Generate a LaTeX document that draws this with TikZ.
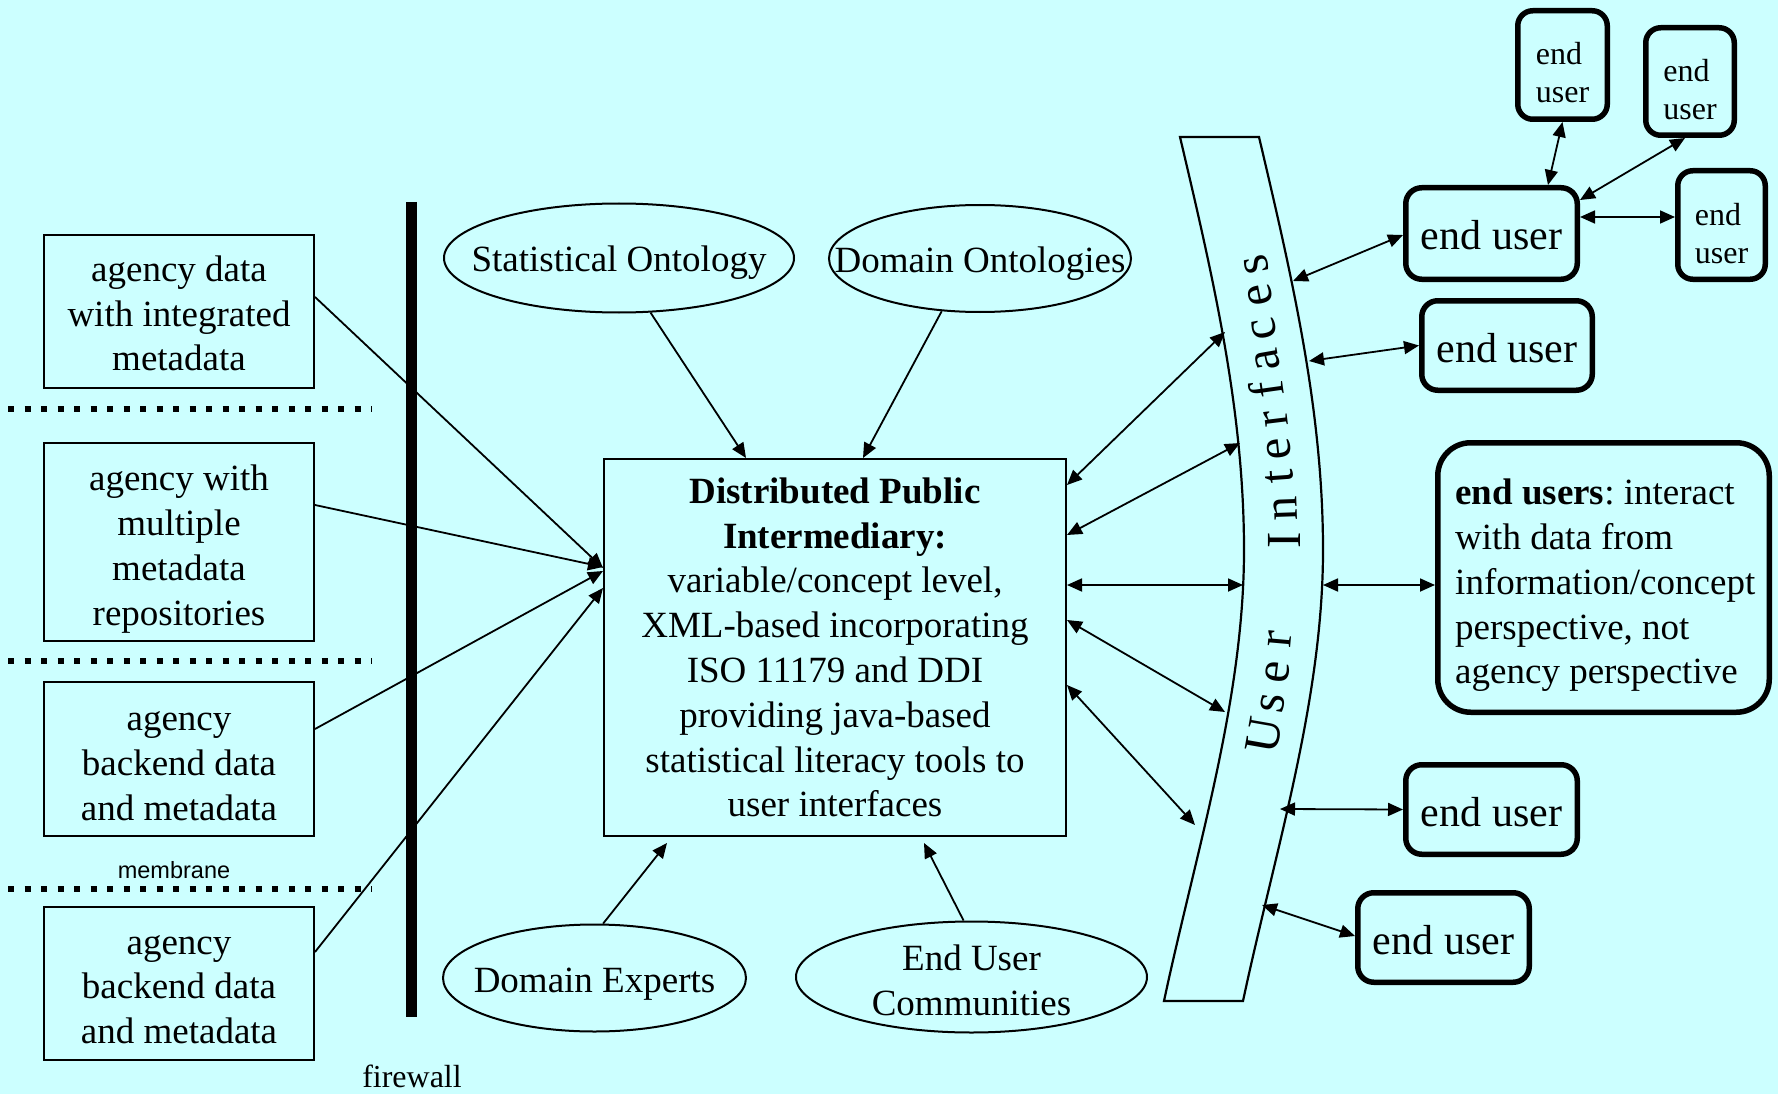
\documentclass[tikz,border=0pt]{standalone}
\usepackage{fontspec}
\setmainfont{Liberation Serif}
\setsansfont{Liberation Sans}
\usetikzlibrary{arrows.meta,shapes.geometric,calc}
\newcommand{\myfs}[2]{\fontsize{#1}{#2}\selectfont}
\definecolor{bgcyan}{RGB}{204,255,255}
\frenchspacing
\begin{document}
\begin{tikzpicture}[x=1pt,y=-1pt,
  >={Triangle[length=15pt,width=13pt]},
  conn/.style={line width=1.8pt,->},
  biconn/.style={line width=1.8pt,<->},
  agbox/.style={draw,line width=2pt,minimum width=270pt,inner sep=0pt},
  btext/.style={align=center,inner sep=0pt,font=\myfs{37}{44.8}},
  midbox/.style={draw,line width=2pt,minimum width=462pt,minimum height=377pt,align=center,inner sep=3pt,font=\myfs{37}{44.8}},
  ell/.style={draw,ellipse,line width=2pt,inner sep=0pt},
  eubig/.style={draw,line width=5.5pt,rounded corners=16pt,inner sep=0pt},
  eubigtext/.style={inner sep=0pt,font=\myfs{42}{48}},
  eusmall/.style={draw,line width=5.5pt,rounded corners=15pt,inner sep=0pt},
  eusmalltext/.style={inner sep=0pt,align=left,font=\myfs{32}{38}},
  membr/.style={line width=6.5pt,dash pattern=on 6pt off 10.5pt},
  uil/.style={inner sep=0pt,anchor=base,font=\myfs{49}{55}}]

\fill[bgcyan] (0,0) rectangle (1778,1094);
\useasboundingbox (0,0) rectangle (1778,1094);

% left agency boxes
\node[agbox,minimum height=153pt] (L1) at (179,311.5) {};
\node[btext] (L1t) at (179,313.5) {agency data\\with integrated\\metadata};
\node[agbox,minimum height=198pt] (L2) at (179,542) {};
\node[btext] (L2t) at (179,549) {agency with\\multiple\\metadata\\repositories};
\node[agbox,minimum height=154pt] (L3) at (179,759) {};
\node[btext] (L3t) at (179,766) {agency\\backend data\\and metadata};
\node[agbox,minimum height=153pt] (L4) at (179,983.5) {};
\node[btext] (L4t) at (179,989.5) {agency\\backend data\\and metadata};

% membranes
\draw[membr] (8,409) -- (372,409);
\draw[membr] (8,661) -- (372,661);
\draw[membr] (8,889) -- (372,889);
\node[font=\sffamily\myfs{23.5}{28},anchor=base,inner sep=0pt] (memb) at (174,878) {membrane};

% firewall
\draw[line width=11.5pt] (411.5,202) -- (411.5,1017);
\node[font=\myfs{32}{38},anchor=base,inner sep=0pt] (fw) at (412,1087) {firewall};

% ellipses
\node[ell,minimum width=350pt,minimum height=109pt] (so) at (619,258) {};
\node[btext] (sot) at (619,263) {Statistical Ontology};
\node[ell,minimum width=302pt,minimum height=107pt] (do) at (980,258.5) {};
\node[btext] (dot) at (980,263.5) {Domain Ontologies};
\node[ell,minimum width=303pt,minimum height=107pt] (de) at (594.5,978) {};
\node[btext] (det) at (594.5,984) {Domain Experts};
\node[ell,minimum width=351pt,minimum height=111pt] (euc) at (971.5,977) {};
\node[btext] (euct) at (971.5,980) {End User\\Communities};

% central box
\node[midbox] (mid) at (835,647.5) {\textbf{Distributed Public}\\\textbf{Intermediary:}\\variable/concept level,\\XML-based incorporating\\ISO 11179 and DDI\\providing java-based\\statistical literacy tools to\\user interfaces};

% user interfaces band
\draw[line width=2.2pt,fill=bgcyan] (1180,137) -- (1259,137)
  .. controls (1292,277) and (1323,410) .. (1323,550)
  .. controls (1323,700) and (1275,851) .. (1243,1001)
  -- (1164,1001)
  .. controls (1196,851) and (1244,700) .. (1244,550)
  .. controls (1244,410) and (1213,277) .. (1180,137) -- cycle;
\foreach \l/\x/\y/\a [count=\i] in {U/1280/738/80, s/1284/705/81, e/1289/674/83, r/1291/640/85,
  I/1300/540/90, n/1297/508/92, t/1293/476/94, e/1290/448/96, r/1287/417/97,
  f/1283/387/98, a/1279/358/100, c/1275/327/101, e/1271/293/101, s/1268/262/102}
  \node[uil,rotate=\a] (ui\i) at (\x,\y) {\l};

% end user boxes
\node[eubig,minimum width=171.5pt,minimum height=91.5pt] (eu1) at (1491.5,233.5) {};
\node[eubigtext] (eu1t) at (1491.5,235) {end user};
\node[eubig,minimum width=170.5pt,minimum height=89.5pt] (eu2) at (1507,345.5) {};
\node[eubigtext] (eu2t) at (1507,348.5) {end user};
\node[eubig,minimum width=171.5pt,minimum height=89.5pt] (eu3) at (1491.5,809.5) {};
\node[eubigtext] (eu3t) at (1491.5,812.5) {end user};
\node[eubig,minimum width=171.5pt,minimum height=89.5pt] (eu4) at (1443.5,937.5) {};
\node[eubigtext] (eu4t) at (1443.5,940.5) {end user};
\node[eusmall,minimum width=89.5pt,minimum height=108.5pt] (eua) at (1562.5,65) {};
\node[eusmalltext] (euat) at (1562.5,73) {end\\user};
\node[eusmall,minimum width=88.5pt,minimum height=107.5pt] (eub) at (1690,81.5) {};
\node[eusmalltext] (eubt) at (1690,89.5) {end\\user};
\node[eusmall,minimum width=87.5pt,minimum height=108.5pt] (euc2) at (1721.5,225) {};
\node[eusmalltext] (euc2t) at (1721.5,234) {end\\user};
\node[draw,line width=5.5pt,rounded corners=33pt,minimum width=331.5pt,minimum height=269.5pt,inner sep=0pt] (info) at (1603.5,577.5) {};
\node[align=left,anchor=west,inner sep=0pt,font=\myfs{37}{44.8}] (infot) at (1455,585.5)
  {\textbf{end users}: interact\\with data from\\information/concept\\perspective, not\\agency perspective};

% band anchor points
\coordinate (b1) at (1225,332);
\coordinate (b2) at (1240,443);
\coordinate (b3) at (1243,585);
\coordinate (b4) at (1225,712);
\coordinate (b5) at (1195,825);
\coordinate (r1) at (1293,281);
\coordinate (r2) at (1309,361);
\coordinate (r3) at (1323,585);
\coordinate (r4) at (1280,809);
\coordinate (r5) at (1262,905);

% connectors: left boxes -> intermediary
\draw[conn] ([yshift=14.5pt]L1.east) -- ([yshift=79.5pt]mid.west);
\draw[conn] ([yshift=37pt]L2.east) -- ([yshift=80.5pt]mid.west);
\draw[conn] ([yshift=30pt]L3.east) -- ([yshift=76.5pt]mid.west);
\draw[conn] ([yshift=31.5pt]L4.east) -- ([yshift=59.5pt]mid.west);

% ellipses -> intermediary
\draw[conn] (so.-60) -- ([xshift=-89pt]mid.north);
\draw[conn] (do.-126) -- ([xshift=28pt]mid.north);
\draw[conn] (de.81) -- ([xshift=-168pt,yshift=-6pt]mid.south);
\draw[conn] (euc.98) -- ([xshift=89pt,yshift=-6pt]mid.south);

% intermediary <-> band
\draw[biconn] ([yshift=162.5pt]mid.east) -- (b1);
\draw[biconn] ([yshift=112.5pt]mid.east) -- (b2);
\draw[biconn] ([yshift=62.5pt]mid.east) -- (b3);
\draw[biconn] ([yshift=27.5pt]mid.east) -- (b4);
\draw[biconn] ([yshift=-37.5pt]mid.east) -- (b5);

% band <-> end users
\draw[biconn] (r1) -- ([yshift=-1.5pt]eu1.west);
\draw[biconn] (r2) -- (eu2.west);
\draw[biconn] (r3) -- ([yshift=-7.5pt]info.west);
\draw[biconn] (r4) -- (eu3.west);
\draw[biconn] (r5) -- ([yshift=1.5pt]eu4.west);

% end user <-> end users
\draw[biconn] ([xshift=56.5pt]eu1.north) -- (eua.south);
\draw[biconn] ([yshift=33.5pt]eu1.east) -- ([xshift=-5pt]eub.south);
\draw[biconn] ([yshift=16.5pt]eu1.east) -- ([yshift=8pt]euc2.west);
\end{tikzpicture}
\end{document}
